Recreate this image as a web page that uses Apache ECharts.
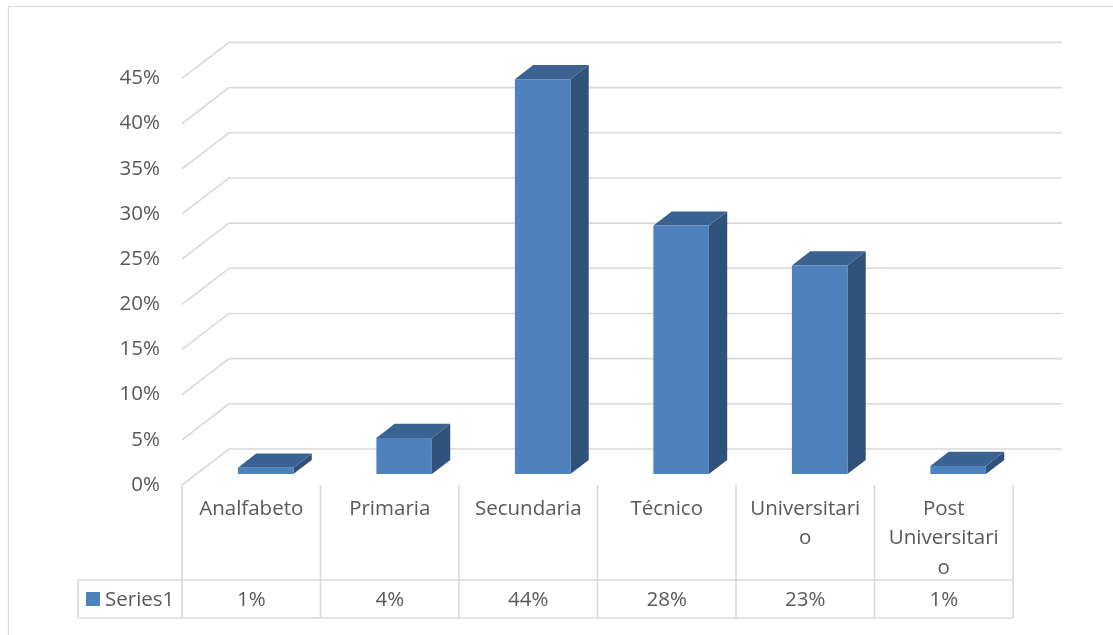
<!DOCTYPE html>
<html>
<head>
<meta charset="utf-8">
<script src="https://cdn.jsdelivr.net/npm/echarts@6/dist/echarts.min.js"></script>
<style>
  html, body { margin: 0; padding: 0; background: #fff; }
  #chart { width: 1113px; height: 635px; }
</style>
</head>
<body>
<div id="chart"></div>
<script>
// ---- data ----
const categories = ['Analfabeto', 'Primaria', 'Secundaria', 'Técnico', 'Universitario', 'Post Universitario'];
const categoryLabels = ['Analfabeto', 'Primaria', 'Secundaria', 'Técnico', 'Universitari\no', 'Post\nUniversitari\no'];
const values = [0.007, 0.040, 0.437, 0.275, 0.231, 0.009];
const yTicks = [0, 0.05, 0.10, 0.15, 0.20, 0.25, 0.30, 0.35, 0.40, 0.45];
const seriesName = 'Series1';

// ---- style ----
const FONT = '"Open Sans", "Noto Sans", sans-serif';
const FS = 20.5;
const TXT = '#595959';
const GRID = '#D9D9D9';
const FRONT = '#4F81BD';
const TOP = '#3B6391';
const SIDE = '#30517A';
const DEPTH_X = 47, DEPTH_Y = -36;      // full floor depth
const BAR_DX = 18.3, BAR_DY = -14.2;    // bar depth
const BAR_OX = 14.4, BAR_OY = -10.9;    // bar front plane offset from front

const chart = echarts.init(document.getElementById('chart'), null, { renderer: 'canvas' });

const pct = v => Math.round(v * 100) + '%';

const option = {
  animation: false,
  backgroundColor: '#fff',
  graphic: [{
    type: 'rect',
    shape: { x: 8.5, y: 6.5, width: 1300, height: 800 },
    style: { fill: 'none', stroke: GRID, lineWidth: 1.2 },
    silent: true, z: -10
  }],
  grid: { left: 182, right: 100, top: 78.4, bottom: 150, containLabel: false },
  xAxis: {
    type: 'category',
    data: categories,
    boundaryGap: true,
    axisLine: { show: false },
    axisTick: { show: false },
    splitLine: { show: false },
    axisLabel: {
      interval: 0,
      margin: 9,
      color: TXT,
      fontFamily: FONT,
      fontSize: FS,
      lineHeight: 29.5,
      align: 'center',
      formatter: (v, i) => categoryLabels[i]
    }
  },
  yAxis: {
    type: 'value',
    min: 0, max: 0.45, interval: 0.05,
    axisLine: { show: false },
    axisTick: { show: false },
    splitLine: { show: false },
    axisLabel: {
      margin: 22,
      padding: [4, 0, 0, 0],
      color: TXT,
      fontFamily: FONT,
      fontSize: FS,
      formatter: v => Math.round(v * 100) + '%'
    }
  },
  series: [
    {
      // back wall / side wall gridlines
      type: 'custom',
      name: 'grid',
      silent: true,
      z: 1,
      data: yTicks.map(t => [0, t]),
      renderItem: (params, api) => {
        const t = api.value(1);
        const band = api.size([1, 0])[0];
        const p = api.coord([0, t]);
        const xl = p[0] - band / 2;
        const last = api.coord([categories.length - 1, t]);
        const xr = last[0] + band / 2;
        const y = p[1];
        return {
          type: 'polyline',
          shape: { points: [[xl, y], [xl + DEPTH_X, y + DEPTH_Y], [xr + DEPTH_X + 2, y + DEPTH_Y]] },
          style: { stroke: GRID, lineWidth: 1.6, fill: null }
        };
      }
    },
    {
      // 3D bars
      type: 'custom',
      name: seriesName,
      z: 3,
      data: values.map((v, i) => [i, v]),
      renderItem: (params, api) => {
        const i = api.value(0), v = api.value(1);
        const base = api.coord([i, 0]);
        const top = api.coord([i, v]);
        const band = api.size([1, 0])[0];
        const w = band * 0.401;
        const xl = base[0] + BAR_OX - w / 2;
        const xr = xl + w;
        const yb = base[1] + BAR_OY;
        const yt = top[1] + BAR_OY;
        return {
          type: 'group',
          children: [
            {
              type: 'polygon',
              shape: { points: [[xr, yt], [xr + BAR_DX, yt + BAR_DY], [xr + BAR_DX, yb + BAR_DY], [xr, yb]] },
              style: { fill: SIDE }
            },
            {
              type: 'polygon',
              shape: { points: [[xl, yt], [xr, yt], [xr + BAR_DX, yt + BAR_DY], [xl + BAR_DX, yt + BAR_DY]] },
              style: { fill: TOP }
            },
            {
              type: 'rect',
              shape: { x: xl, y: yt, width: w, height: yb - yt },
              style: { fill: FRONT }
            }
          ]
        };
      }
    },
    {
      // data table
      type: 'custom',
      name: 'table',
      silent: true,
      z: 2,
      data: values.map((v, i) => [i, v]),
      renderItem: (params, api) => {
        const i = api.value(0), v = api.value(1);
        const band = api.size([1, 0])[0];
        const c = api.coord([i, 0]);
        const xl = c[0] - band / 2;
        const xr = c[0] + band / 2;
        const y0 = c[1];
        const yMid = y0 + 95;
        const yBot = y0 + 133;
        const ls = { stroke: GRID, lineWidth: 1.6 };
        const children = [
          { type: 'line', shape: { x1: xl, y1: y0, x2: xl, y2: yBot }, style: ls },
          { type: 'line', shape: { x1: xl, y1: yMid, x2: xr, y2: yMid }, style: ls },
          { type: 'line', shape: { x1: xl, y1: yBot, x2: xr, y2: yBot }, style: ls },
          {
            type: 'text',
            style: {
              text: pct(v), x: c[0], y: y0 + 115,
              textAlign: 'center', textVerticalAlign: 'middle',
              fill: TXT, fontSize: FS, fontFamily: FONT
            }
          }
        ];
        if (i === categories.length - 1) {
          children.push({ type: 'line', shape: { x1: xr, y1: y0, x2: xr, y2: yBot }, style: ls });
        }
        if (i === 0) {
          const lx = xl - 104;
          children.push(
            { type: 'line', shape: { x1: lx, y1: yMid, x2: xl, y2: yMid }, style: ls },
            { type: 'line', shape: { x1: lx, y1: yBot, x2: xl, y2: yBot }, style: ls },
            { type: 'line', shape: { x1: lx, y1: yMid, x2: lx, y2: yBot }, style: ls },
            { type: 'rect', shape: { x: xl - 96, y: y0 + 107, width: 14, height: 14 }, style: { fill: FRONT } },
            {
              type: 'text',
              style: {
                text: seriesName, x: xl - 77, y: y0 + 115,
                textAlign: 'left', textVerticalAlign: 'middle',
                fill: TXT, fontSize: FS, fontFamily: FONT
              }
            }
          );
        }
        return { type: 'group', children };
      }
    }
  ]
};

chart.setOption(option);
</script>
</body>
</html>
